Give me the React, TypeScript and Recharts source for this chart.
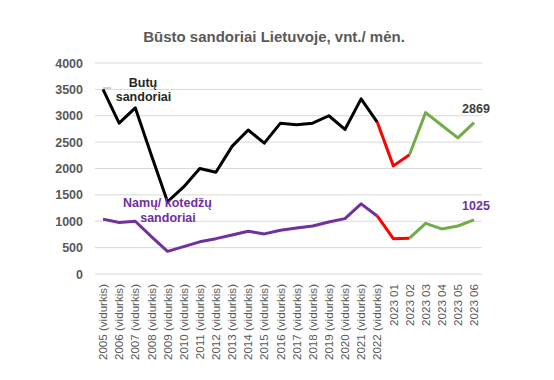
import React from 'react';
import { LineChart, Line, XAxis, YAxis, CartesianGrid } from 'recharts';

const categories = [
  '2005 (vidurkis)', '2006 (vidurkis)', '2007 (vidurkis)', '2008 (vidurkis)', '2009 (vidurkis)',
  '2010 (vidurkis)', '2011 (vidurkis)', '2012 (vidurkis)', '2013 (vidurkis)', '2014 (vidurkis)',
  '2015 (vidurkis)', '2016 (vidurkis)', '2017 (vidurkis)', '2018 (vidurkis)', '2019 (vidurkis)',
  '2020 (vidurkis)', '2021 (vidurkis)', '2022 (vidurkis)',
  '2023 01', '2023 02', '2023 03', '2023 04', '2023 05', '2023 06',
];

const butai = [3500, 2860, 3150, 2250, 1370, 1650, 2000, 1930, 2420, 2730, 2480, 2860, 2830, 2860, 3000, 2740, 3320, 2880, 2050, 2260, 3060, 2820, 2580, 2869];
const namai = [1040, 975, 1000, 710, 430, 520, 610, 670, 740, 810, 760, 830, 870, 910, 985, 1050, 1330, 1100, 670, 680, 960, 855, 910, 1025];

const yTicks = [0, 500, 1000, 1500, 2000, 2500, 3000, 3500, 4000];

const TITLE = 'Būsto sandoriai Lietuvoje, vnt./ mėn.';
const LAST_BLACK = 17; // 2022
const LAST_RED = 19; // 2023 02

const data = categories.map((name, i) => ({
  name,
  butai: i <= LAST_BLACK ? butai[i] : null,
  butaiRed: i >= LAST_BLACK && i <= LAST_RED ? butai[i] : null,
  butaiGreen: i >= LAST_RED ? butai[i] : null,
  namai: i <= LAST_BLACK ? namai[i] : null,
  namaiRed: i >= LAST_BLACK && i <= LAST_RED ? namai[i] : null,
  namaiGreen: i >= LAST_RED ? namai[i] : null,
}));

const FONT = '"Liberation Sans", Arial, sans-serif';
const GRAY = '#595959';
const PURPLE = '#7030a0';
const RED = '#ff0000';
const GREEN = '#70ad47';

const XTick = (props: any) => {
  const { x, payload } = props;
  return (
    <text
      transform={`translate(${x},284) rotate(-90)`}
      textAnchor="end"
      dy="0.36em"
      fontSize={11.6}
      fontFamily={FONT}
      fill={GRAY}
    >
      {payload.value}
    </text>
  );
};

const YTick = (props: any) => {
  const { y, payload } = props;
  return (
    <text x={83} y={y} dy="0.36em" textAnchor="end" fontSize={12.5} fontWeight="bold" fontFamily={FONT} fill={GRAY}>
      {payload.value}
    </text>
  );
};

const lastLabel = (color: string) => (props: any) => {
  const { x, y, index, value } = props;
  if (index !== categories.length - 1) return null;
  return (
    <text x={x + 2} y={y - 9.5} textAnchor="middle" fontSize={12.5} fontWeight="bold" fontFamily={FONT} fill={color}>
      {value}
    </text>
  );
};

export default function App() {
  return (
    <div style={{ position: 'absolute', left: 0, top: 0, width: 554, height: 380, background: '#fff' }}>
      <LineChart
        width={554}
        height={380}
        data={data}
        margin={{ top: 63, right: 72, bottom: 0, left: 0 }}
      >
        <CartesianGrid horizontal vertical={false} stroke="#d9d9d9" strokeWidth={1} />
        <XAxis
          dataKey="name"
          interval={0}
          axisLine={false}
          tickLine={false}
          padding={{ left: 8, right: 8 }}
          tick={<XTick />}
          height={106}
        />
        <YAxis
          domain={[0, 4000]}
          ticks={yTicks}
          axisLine={false}
          tickLine={false}
          width={95}
          tick={<YTick />}
        />
        <Line dataKey="namai" stroke={PURPLE} strokeWidth={3} dot={false} activeDot={false} isAnimationActive={false} strokeLinejoin="round" />
        <Line dataKey="namaiRed" stroke={RED} strokeWidth={3} dot={false} activeDot={false} isAnimationActive={false} strokeLinejoin="round" />
        <Line dataKey="namaiGreen" stroke={GREEN} strokeWidth={3} dot={false} activeDot={false} isAnimationActive={false} strokeLinejoin="round" label={lastLabel(PURPLE)} />
        <Line dataKey="butai" stroke="#000000" strokeWidth={3} dot={false} activeDot={false} isAnimationActive={false} strokeLinejoin="round" />
        <Line dataKey="butaiRed" stroke={RED} strokeWidth={3} dot={false} activeDot={false} isAnimationActive={false} strokeLinejoin="round" />
        <Line dataKey="butaiGreen" stroke={GREEN} strokeWidth={3} dot={false} activeDot={false} isAnimationActive={false} strokeLinejoin="round" label={lastLabel('#404040')} />
      </LineChart>
      <svg
        width={554}
        height={380}
        style={{ position: 'absolute', left: 0, top: 0, pointerEvents: 'none' }}
      >
        <text x={274} y={42} textAnchor="middle" fontSize={15} fontWeight="bold" fontFamily={FONT} fill={GRAY}>
          {TITLE}
        </text>
        <line x1={103} y1={88} x2={111} y2={88} stroke="#a6a6a6" strokeWidth={1} />
        <text textAnchor="middle" fontSize={12.5} fontWeight="bold" fontFamily={FONT} fill="#262626">
          <tspan x={143} y={87}>Butų</tspan>
          <tspan x={143.5} y={100.5}>sandoriai</tspan>
        </text>
        <text textAnchor="middle" fontSize={12.5} fontWeight="bold" fontFamily={FONT} fill={PURPLE}>
          <tspan x={167.5} y={207}>Namų/ kotedžų</tspan>
          <tspan x={168} y={221.5}>sandoriai</tspan>
        </text>
      </svg>
    </div>
  );
}
